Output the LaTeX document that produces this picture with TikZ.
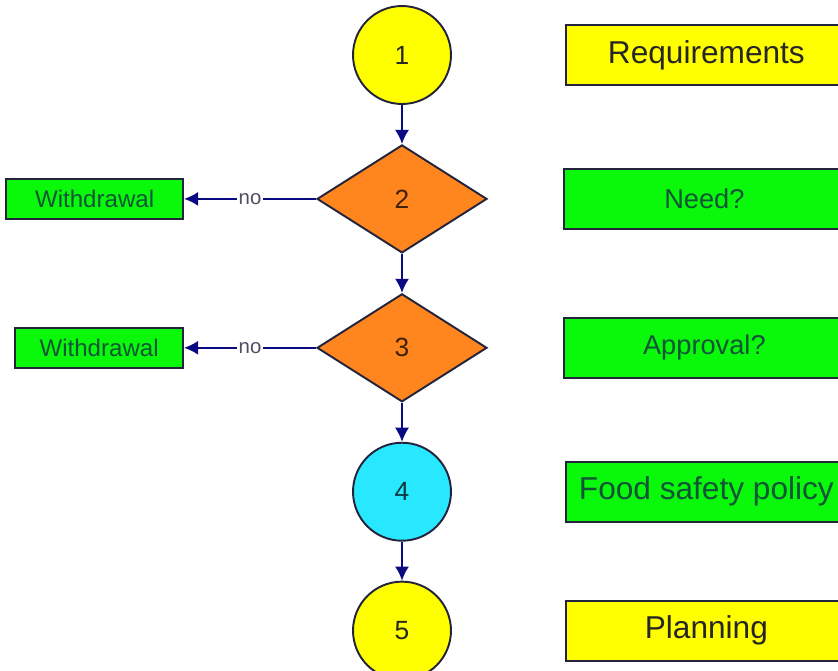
\documentclass[tikz,border=0pt]{standalone}
\usepackage{fontspec}
\setmainfont{Liberation Sans}
\usetikzlibrary{positioning,shapes.geometric,arrows.meta}
\definecolor{boxyellow}{RGB}{255,255,0}
\definecolor{boxgreen}{RGB}{10,248,10}
\definecolor{greentext}{RGB}{15,85,55}
\definecolor{diaorange}{RGB}{255,133,30}
\definecolor{circcyan}{RGB}{40,232,255}
\definecolor{linenavy}{RGB}{10,10,130}
\definecolor{edgedark}{RGB}{35,35,60}

\begin{document}
\begin{tikzpicture}[
  x=0.02cm, y=-0.02cm,
  node distance=0.78cm,
  stage/.style={draw=edgedark,line width=1.1pt,circle,minimum size=1.96cm,inner sep=0pt,font=\fontsize{15}{18}\selectfont},
  test/.style={draw=edgedark,line width=1.1pt,diamond,minimum width=3.4cm,minimum height=2.16cm,inner sep=0pt,fill=diaorange,text=diaorange!25!black,font=\fontsize{15}{18}\selectfont},
  wbox/.style={draw=edgedark,line width=1.1pt,fill=boxgreen,text=greentext,minimum width=3.36cm,minimum height=0.79cm,inner sep=0pt,font=\fontsize{13.7}{16}\selectfont},
  rbox/.style={draw=edgedark,line width=1.1pt,minimum width=5.62cm,minimum height=1.2cm,inner sep=0pt,text=black!85,font=\fontsize{18}{21}\selectfont},
  flow/.style={draw=linenavy,line width=1pt,-{Latex[length=8pt,width=8pt]}},
  nolabel/.style={fill=white,inner sep=1pt,text=edgedark!80,font=\fontsize{11.6}{14}\selectfont}
]
\useasboundingbox (0,0) rectangle (838,670);
% main column
\node[stage,fill=boxyellow,text=black!85] (c1) at (402,55) {1};
\node[test,below=of c1] (d2) {2};
\node[test,below=of d2] (d3) {3};
\node[stage,fill=circcyan,text=circcyan!25!black,below=of d3] (c4) {4};
\node[stage,fill=boxyellow,text=black!85,below=of c4] (c5) {5};
% withdrawals
\node[wbox,minimum width=3.54cm,left=2.64cm of d2] (w2) {Withdrawal};
\node[wbox,left=2.64cm of d3] (w3) {Withdrawal};
% legend boxes
\node[rbox,fill=boxyellow,right=2.26cm of c1] (r1) {Requirements};
\node[rbox,fill=boxgreen,text=greentext,font=\fontsize{15.5}{18}\selectfont,right=1.5cm of d2] (r2) {Need?};
\node[rbox,fill=boxgreen,text=greentext,font=\fontsize{15.5}{18}\selectfont,right=1.5cm of d3] (r3) {Approval?};
\node[rbox,fill=boxgreen,text=greentext,right=2.26cm of c4] (r4) {Food safety policy};
\node[rbox,fill=boxyellow,right=2.26cm of c5] (r5) {Planning};
% connectors
\draw[flow] (c1) -- (d2);
\draw[flow] (d2) -- (d3);
\draw[flow] (d3) -- (c4);
\draw[flow] (c4) -- (c5);
\draw[flow] (d2) -- node[nolabel] {no} (w2);
\draw[flow] (d3) -- node[nolabel] {no} (w3);
\end{tikzpicture}
\end{document}
